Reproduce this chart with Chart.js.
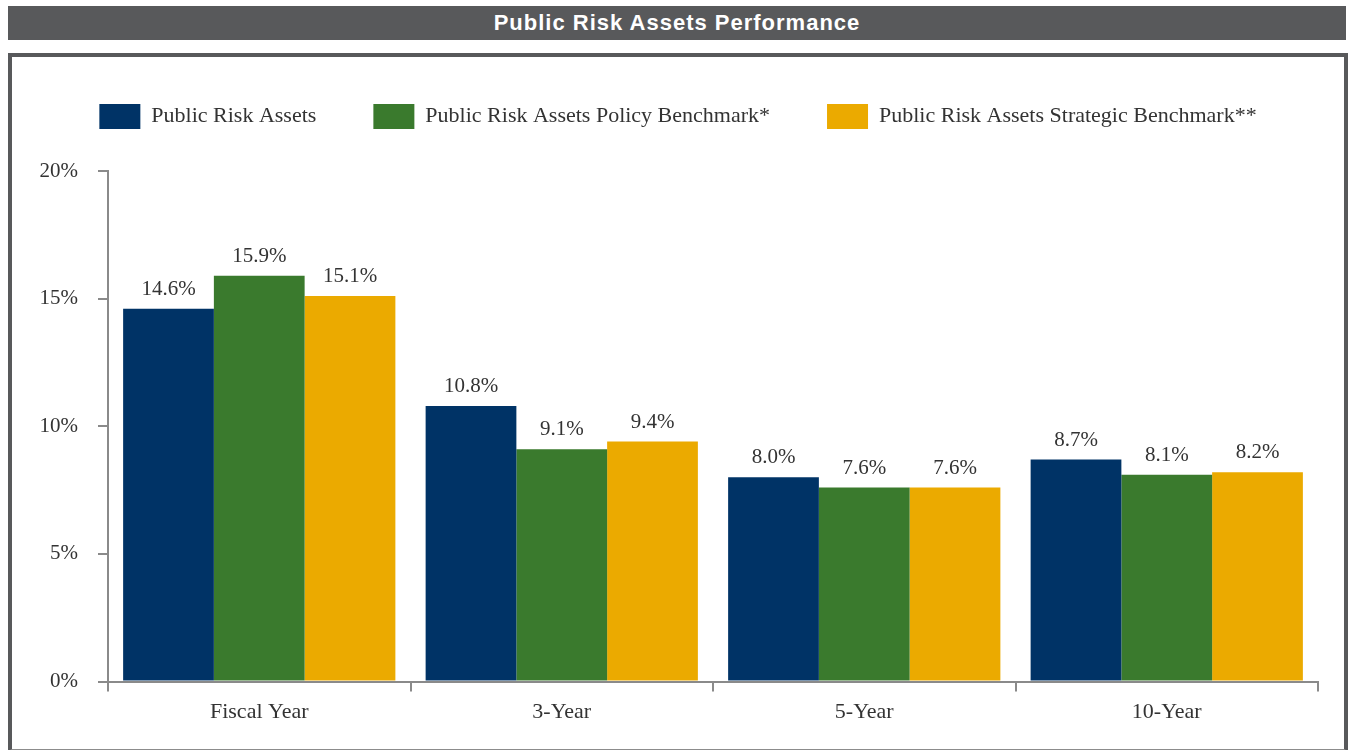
<!DOCTYPE html>
<html>
<head>
<meta charset="utf-8">
<script src="https://cdn.jsdelivr.net/npm/chart.js@4.4.1/dist/chart.umd.min.js"></script>
<style>
  html, body { margin: 0; padding: 0; background: #ffffff; }
  body { width: 1349px; height: 750px; position: relative; overflow: hidden; }
  #titleBar {
    position: absolute; left: 8px; top: 6px; width: 1338px; height: 34px;
    background: #58595b; color: #ffffff;
    font-family: "Liberation Sans", Arial, sans-serif; font-weight: bold; font-size: 22px;
    letter-spacing: 1px; line-height: 34px; text-align: center;
  }
  #frame {
    position: absolute; left: 8px; top: 53px; width: 1332px; height: 692px;
    border-top: 4px solid #58595b; border-left: 4px solid #58595b;
    border-right: 4px solid #58595b; border-bottom: 2px solid #8c8c8c;
  }
  #wrap { position: absolute; left: 0; top: 0; width: 1332px; height: 692px; }
</style>
</head>
<body>
<div id="titleBar">Public Risk Assets Performance</div>
<div id="frame"><div id="wrap"><canvas id="chart"></canvas></div></div>
<script>
const categories = ["Fiscal Year", "3-Year", "5-Year", "10-Year"];
const seriesNames = [
  "Public Risk Assets",
  "Public Risk Assets Policy Benchmark*",
  "Public Risk Assets Strategic Benchmark**"
];
const publicRiskAssets = [14.6, 10.8, 8.0, 8.7];
const policyBenchmark = [15.9, 9.1, 7.6, 8.1];
const strategicBenchmark = [15.1, 9.4, 7.6, 8.2];
const yTicks = [0, 5, 10, 15, 20];

const serif = "'Liberation Serif', 'Times New Roman', serif";
const textColor = "#333333";
const axisColor = "#8a8a8a";

// Writes each bar's value just above its top
const valueLabels = {
  id: "valueLabels",
  afterDatasetsDraw(chart) {
    const ctx = chart.ctx;
    ctx.save();
    ctx.font = "21px " + serif;
    ctx.fillStyle = textColor;
    ctx.textAlign = "center";
    ctx.textBaseline = "bottom";
    chart.data.datasets.forEach((ds, i) => {
      chart.getDatasetMeta(i).data.forEach((bar, j) => {
        ctx.fillText(ds.data[j].toFixed(1) + "%", bar.x, bar.y - 9);
      });
    });
    ctx.restore();
  }
};

// Extra room beneath the legend
const legendGap = {
  id: "legendGap",
  beforeInit(chart) {
    const fit = chart.legend.fit;
    chart.legend.fit = function () {
      fit.bind(chart.legend)();
      this.height += 32;
    };
  }
};

new Chart(document.getElementById("chart"), {
  type: "bar",
  data: {
    labels: categories,
    datasets: [
      { label: seriesNames[0], data: publicRiskAssets, backgroundColor: "#003366" },
      { label: seriesNames[1], data: policyBenchmark, backgroundColor: "#3a7a2d" },
      { label: seriesNames[2], data: strategicBenchmark, backgroundColor: "#ebaa00" }
    ]
  },
  options: {
    responsive: true,
    maintainAspectRatio: false,
    animation: false,
    events: [],
    layout: { padding: { left: 26, right: 26, top: -10, bottom: 17 } },
    datasets: { bar: { categoryPercentage: 0.9, barPercentage: 1.0, borderWidth: 0 } },
    plugins: {
      tooltip: { enabled: false },
      legend: {
        position: "top",
        labels: {
          boxWidth: 41, boxHeight: 25, padding: 57,
          color: textColor,
          font: { family: serif, size: 22 }
        }
      }
    },
    scales: {
      x: {
        grid: { display: true, drawOnChartArea: false, offset: true, tickLength: 10, color: axisColor, lineWidth: 2 },
        border: { display: true, color: axisColor, width: 2 },
        ticks: { color: textColor, font: { family: serif, size: 22 }, padding: 7 }
      },
      y: {
        min: 0, max: 20,
        afterFit(scale) { scale.width = 70; },
        afterBuildTicks(scale) { scale.ticks = yTicks.map(v => ({ value: v })); },
        grid: { display: true, drawOnChartArea: false, tickLength: 10, color: axisColor, lineWidth: 2 },
        border: { display: true, color: axisColor, width: 2 },
        ticks: {
          color: textColor, font: { family: serif, size: 21 }, padding: 20,
          callback: v => v + "%"
        }
      }
    }
  },
  plugins: [valueLabels, legendGap]
});
</script>
</body>
</html>
